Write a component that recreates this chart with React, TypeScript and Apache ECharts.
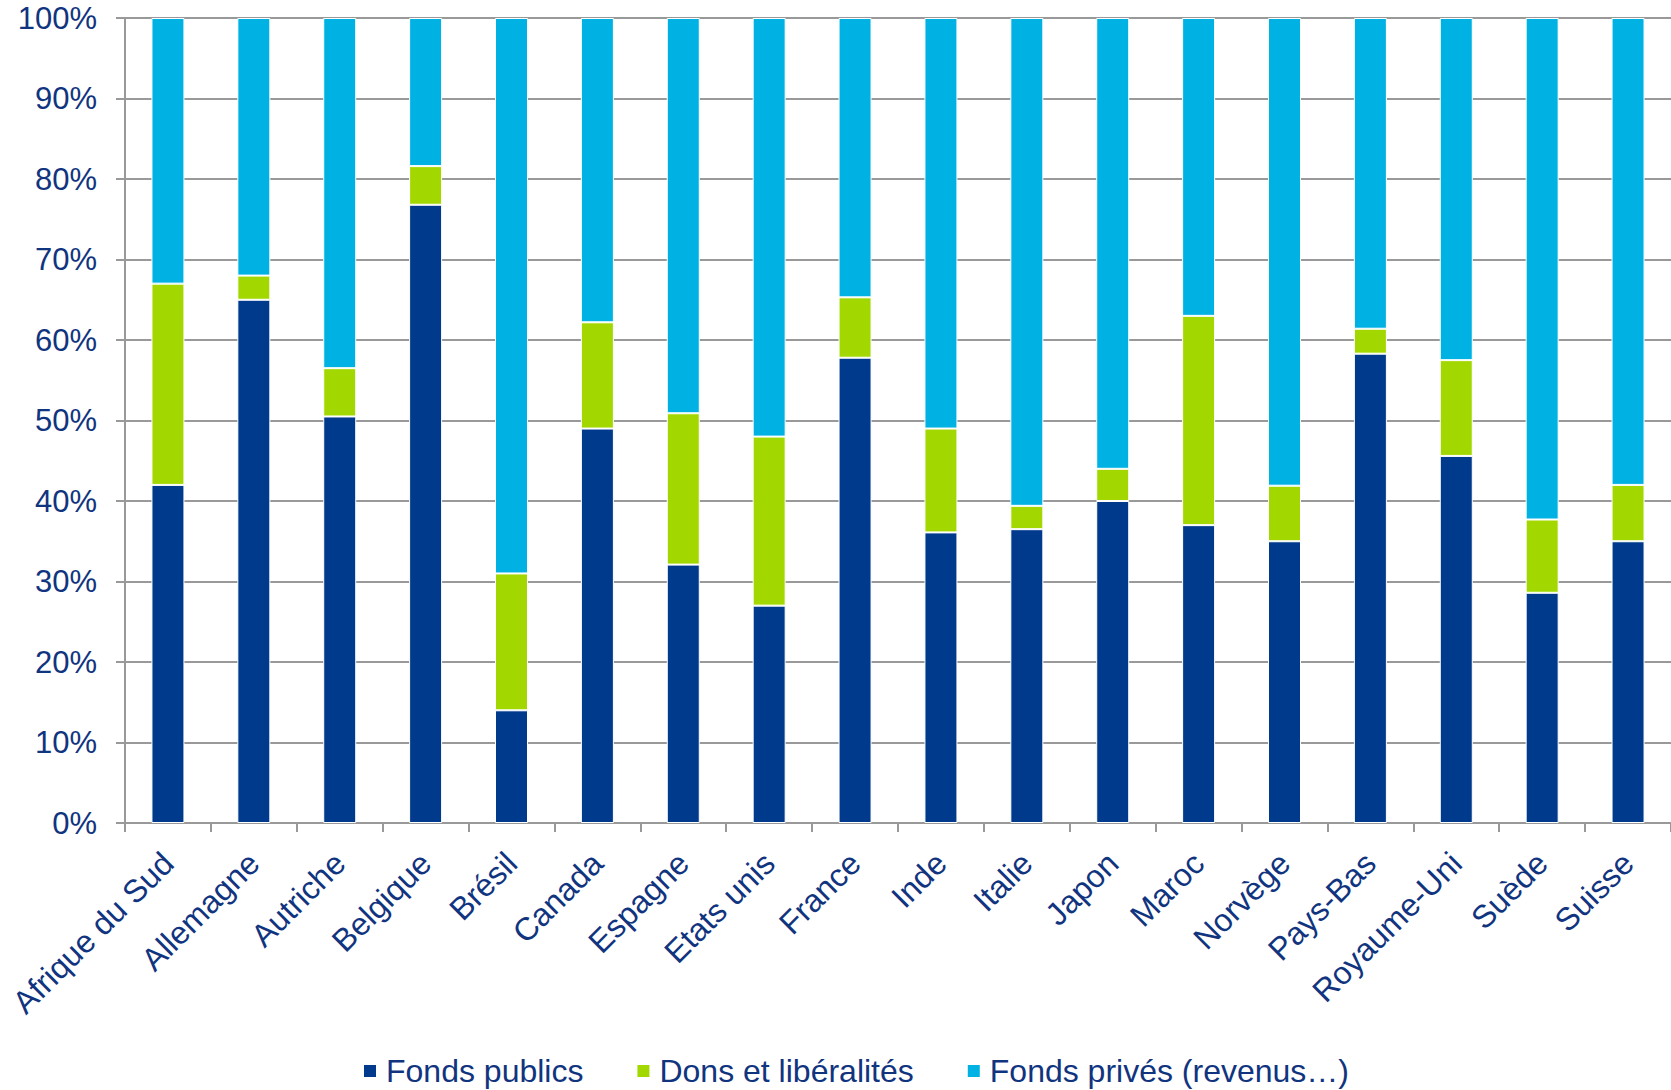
import React, { useEffect, useRef } from "react";
import * as echarts from "echarts";

const categories = [
  "Afrique du Sud", "Allemagne", "Autriche", "Belgique", "Brésil", "Canada",
  "Espagne", "Etats unis", "France", "Inde", "Italie", "Japon", "Maroc",
  "Norvège", "Pays-Bas", "Royaume-Uni", "Suède", "Suisse",
];

const fondsPublics = [42.0, 65.0, 50.5, 76.8, 14.0, 49.0, 32.1, 27.0, 57.8, 36.1, 36.5, 40.0, 37.0, 35.0, 58.3, 45.6, 28.6, 35.0];
const donsLiberalites = [25.0, 3.0, 6.0, 4.8, 17.0, 13.2, 18.8, 21.0, 7.5, 12.9, 2.9, 4.0, 26.0, 6.9, 3.1, 11.9, 9.1, 7.0];
const fondsPrives = [33.0, 32.0, 43.5, 18.4, 69.0, 37.8, 49.1, 52.0, 34.7, 51.0, 60.6, 56.0, 37.0, 58.1, 38.6, 42.5, 62.3, 58.0];

const seriesNames = ["Fonds publics", "Dons et libéralités", "Fonds privés (revenus…)"];
const seriesColors = ["#003A8C", "#A2D800", "#00B2E3"];
const yTicks = { min: 0, max: 100, interval: 10 };

const TEXT = "#11347F";
const GRAY = "#999999";
const FONT = "'Liberation Sans', Arial, sans-serif";

export default function App() {
  const ref = useRef<HTMLDivElement>(null);
  useEffect(() => {
    if (!ref.current) return;
    const chart = echarts.init(ref.current, null, { renderer: "svg" });
    const data = [fondsPublics, donsLiberalites, fondsPrives];
    chart.setOption({
      animation: false,
      backgroundColor: "#ffffff",
      textStyle: { fontFamily: FONT },
      grid: { left: 125, top: 18, width: 1548, height: 805, containLabel: false },
      legend: {
        data: seriesNames,
        left: 357,
        top: 1049,
        icon: "rect",
        itemWidth: 14,
        itemHeight: 14,
        itemGap: 52,
        textStyle: { color: TEXT, fontSize: 32, fontFamily: FONT, lineHeight: 34, padding: [0, 0, 0, 4] },
      },
      xAxis: {
        type: "category",
        data: categories,
        axisLine: { show: true, lineStyle: { color: GRAY, width: 2 } },
        axisTick: { show: true, alignWithLabel: false, length: 9, lineStyle: { color: GRAY, width: 2 } },
        axisLabel: { rotate: 45, interval: 0, color: TEXT, fontSize: 32, fontFamily: FONT, margin: 35 },
        splitLine: { show: false },
      },
      yAxis: {
        type: "value",
        min: yTicks.min,
        max: yTicks.max,
        interval: yTicks.interval,
        axisLine: { show: true, lineStyle: { color: GRAY, width: 2 } },
        axisTick: { show: true, length: 9, lineStyle: { color: GRAY, width: 2 } },
        axisLabel: { formatter: "{value}%", color: TEXT, fontSize: 31, fontFamily: FONT, margin: 28 },
        splitLine: { show: true, lineStyle: { color: GRAY, width: 2 } },
      },
      series: seriesNames.map((name, i) => ({
        name,
        type: "bar",
        stack: "total",
        barWidth: 33,
        data: data[i],
        itemStyle: { color: seriesColors[i], borderColor: "#ffffff", borderWidth: 1 },
      })),
    });
    return () => chart.dispose();
  }, []);
  return (
    <div
      ref={ref}
      style={{ position: "fixed", left: 0, top: 0, width: 1671, height: 1090, background: "#fff" }}
    />
  );
}
